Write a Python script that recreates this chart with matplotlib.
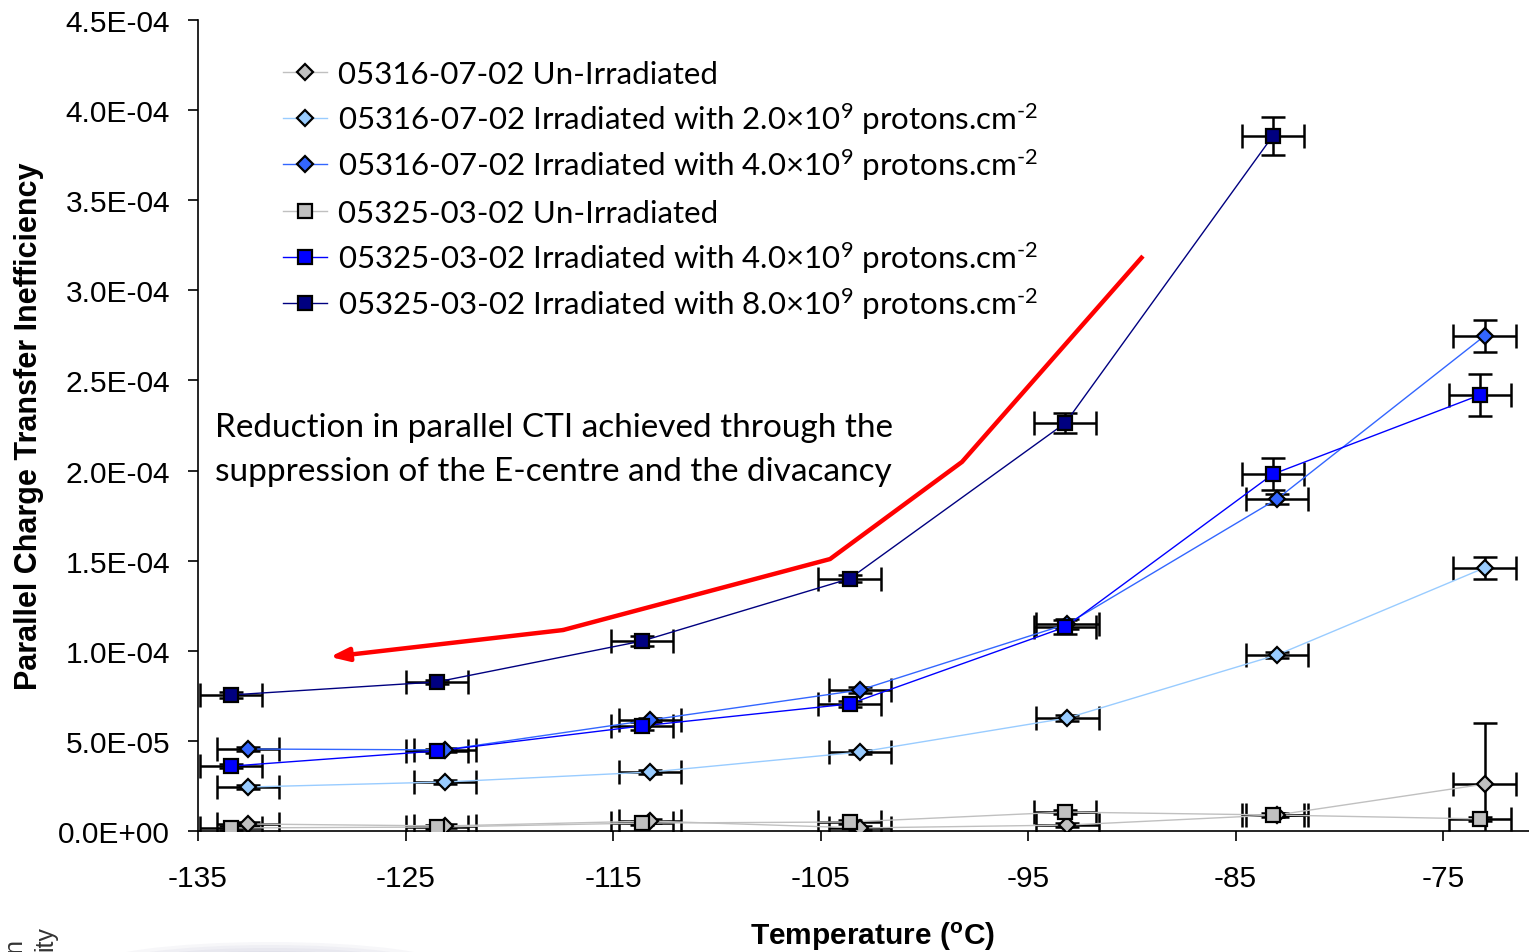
import matplotlib
matplotlib.use("Agg")
import matplotlib.pyplot as plt
from matplotlib.lines import Line2D
from matplotlib.patches import Ellipse

plt.rcParams['axes.unicode_minus'] = False
plt.rcParams['mathtext.fontset'] = 'custom'
plt.rcParams['mathtext.rm'] = 'Lato'
plt.rcParams['mathtext.it'] = 'Lato:italic'
plt.rcParams['mathtext.bf'] = 'Liberation Sans:bold'

# temperatures (deg C) of the two devices
temp_05316 = [-132.6, -123.1, -113.2, -103.1, -93.1, -83.0, -73.0]
temp_05325 = [-133.4, -123.5, -113.6, -103.6, -93.2, -83.2, -73.2]
temp_err = 1.5

# parallel CTI values (x1e-5) and their errors
cti_316_unirr = [0.39, 0.28, 0.55, 0.17, 0.33, 0.89, 2.6]
err_316_unirr = [0.1, 0.1, 0.1, 0.1, 0.1, 0.1, 3.4]
cti_316_2e9 = [2.44, 2.72, 3.27, 4.38, 6.27, 9.77, 14.6]
err_316_2e9 = [0.1, 0.1, 0.1, 0.1, 0.15, 0.15, 0.6]
cti_316_4e9 = [4.55, 4.5, 6.16, 7.82, 11.49, 18.42, 27.47]
err_316_4e9 = [0.1, 0.1, 0.1, 0.15, 0.3, 0.3, 0.87]
cti_325_unirr = [0.17, 0.22, 0.44, 0.5, 1.05, 0.89, 0.67]
err_325_unirr = [0.1, 0.1, 0.1, 0.1, 0.1, 0.1, 0.1]
cti_325_4e9 = [3.6, 4.44, 5.83, 7.05, 11.32, 19.8, 24.2]
err_325_4e9 = [0.1, 0.1, 0.2, 0.15, 0.4, 0.9, 1.15]
cti_325_8e9 = [7.55, 8.27, 10.54, 14.0, 22.64, 38.57]
err_325_8e9 = [0.15, 0.1, 0.3, 0.2, 0.55, 1.05]

labels = [
    "05316-07-02 Un-Irradiated",
    r"05316-07-02 Irradiated with 2.0×10$^{9}$ protons.cm$^{\text{-2}}$",
    r"05316-07-02 Irradiated with 4.0×10$^{9}$ protons.cm$^{\text{-2}}$",
    "05325-03-02 Un-Irradiated",
    r"05325-03-02 Irradiated with 4.0×10$^{9}$ protons.cm$^{\text{-2}}$",
    r"05325-03-02 Irradiated with 8.0×10$^{9}$ protons.cm$^{\text{-2}}$",
]
note_lines = ["Reduction in parallel CTI achieved through the",
              "suppression of the E-centre and the divacancy"]

# path of the red annotation arrow (deg C, CTI)
arrow_x = [-89.46, -98.18, -104.54, -117.41, -128.64]
arrow_y = [3.19e-4, 2.048e-4, 1.509e-4, 1.115e-4, 0.966e-4]

series = [
    (temp_05316, cti_316_unirr, err_316_unirr, 'D', '#c0c0c0', '#c0c0c0'),
    (temp_05316, cti_316_2e9, err_316_2e9, 'D', '#99ccff', '#99ccff'),
    (temp_05316, cti_316_4e9, err_316_4e9, 'D', '#3366ff', '#3366ff'),
    (temp_05325, cti_325_unirr, err_325_unirr, 's', '#c0c0c0', '#c0c0c0'),
    (temp_05325, cti_325_4e9, err_325_4e9, 's', '#0000ff', '#0000ff'),
    (temp_05325, cti_325_8e9, err_325_8e9, 's', '#000080', '#000080'),
]

W, H = 1529, 953
fig = plt.figure(figsize=(W / 100, H / 100), dpi=100)
ax = fig.add_axes([198 / W, 121 / H, 1 - 198 / W, 811 / H])

handles = []
for tx, cti, err, mk, fc, lc in series:
    n = len(cti)
    y = [v * 1e-5 for v in cti]
    ye = [e * 1e-5 for e in err]
    ms = 8.3 if mk == 'D' else 10.5
    ax.errorbar(tx[:n], y, xerr=temp_err, yerr=ye, fmt='none', ecolor='black',
                elinewidth=1.8, capsize=8.5, capthick=1.8, zorder=2)
    ax.plot(tx[:n], y, color=lc, lw=1.0, zorder=3)
    ax.plot(tx[:n], y, ls='none', marker=mk, ms=ms, mfc=fc, mec='black', mew=1.6, zorder=4)
    handles.append(dict(color=lc, lw=1.0, marker=mk, ms=ms, mfc=fc, mec='black', mew=1.6))

# red arrow
ax.plot(arrow_x[:-1], arrow_y[:-1], color='#ff0000', lw=3.2, solid_capstyle='butt', zorder=5)
ax.annotate('', xy=(arrow_x[-1], arrow_y[-1]), xytext=(arrow_x[-2], arrow_y[-2]),
            arrowprops=dict(arrowstyle='-|>,head_length=1.1,head_width=0.4',
                            color='#ff0000', lw=3.2, shrinkA=0, shrinkB=0), zorder=5)

for i, line in enumerate(note_lines):
    fig.text(215 / W, 1 - (437 + 44 * i) / H, line, fontsize=24, family='Lato',
             va='baseline', ha='left')

# legend, laid out row by row
for i, (lab, st) in enumerate(zip(labels, handles)):
    yc = 1 - (73 + 46.2 * i) / H
    fig.add_artist(Line2D([283 / W, 327 / W], [yc, yc], transform=fig.transFigure,
                          color=st['color'], lw=st['lw']))
    fig.add_artist(Line2D([305 / W], [yc], transform=fig.transFigure, ls='none',
                          marker=st['marker'], ms=st['ms'], mfc=st['mfc'],
                          mec=st['mec'], mew=st['mew']))
    fig.text(338 / W, yc - 11 / H, lab, fontsize=22.5, family='Lato', va='baseline',
             ha='left')

ax.set_xlim(-135, -135 + (W - 198) / 20.75)
ax.set_ylim(0, 4.5e-4)
ax.set_xticks([-135, -125, -115, -105, -95, -85, -75])
ax.set_yticks([i * 5e-5 for i in range(10)])
ax.yaxis.set_major_formatter(plt.FuncFormatter(lambda v, p: f"{v:.1E}"))
ax.spines['top'].set_visible(False)
ax.spines['right'].set_visible(False)
for s in ('left', 'bottom'):
    ax.spines[s].set_linewidth(1.2)
ax.tick_params(axis='both', direction='out', length=7, width=1.2, labelsize=21.5)
for lab in ax.get_xticklabels() + ax.get_yticklabels():
    lab.set_family('Liberation Sans')
ax.tick_params(axis='x', pad=17)
ax.tick_params(axis='y', pad=13)

ax.set_ylabel("Parallel Charge Transfer Inefficiency", fontsize=22, fontweight='bold',
              family='Liberation Sans', va='center')
ax.yaxis.set_label_coords((29 - 198) / 1331, 0.5)
ax.set_xlabel(r"Temperature ($\mathbf{^{o}}$C)", fontsize=21.5, fontweight='bold',
              family='Liberation Sans', va='center')
ax.xaxis.set_label_coords((873 - 198) / 1331, (832 - 937) / 811)

# bits of a neighbouring slide in the corner
fig.text(14 / W, 1 - 953 / H, "n", rotation=90, fontsize=18, color='#333333',
         family='Liberation Sans', ha='center', va='bottom')
fig.text(45 / W, 1 - 951 / H, "ity", rotation=90, fontsize=18, color='#333333',
         family='Liberation Sans', ha='center', va='bottom')
for k in range(6):
    fig.patches.append(Ellipse((270 / W, 1 - 968 / H), (360 - 30 * k) / W, (50 - 6 * k) / H,
                               transform=fig.transFigure, color='#6a6a9a', alpha=0.05,
                               lw=0))

fig.savefig("out.png", dpi=100)
